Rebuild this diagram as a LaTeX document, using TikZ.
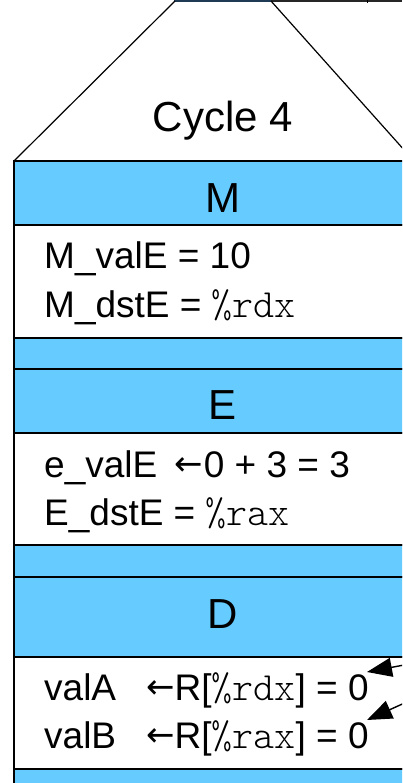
\documentclass[tikz,border=0pt]{standalone}
\usepackage{fontspec}
\setmainfont{Liberation Sans}
\newfontfamily\regfont{Latin Modern Mono Light}
\newfontfamily\arrowfont{DejaVu Sans}
\usetikzlibrary{arrows.meta}
\definecolor{stageblue}{HTML}{66CCFF}
\definecolor{topnavy}{HTML}{1F3A55}
\newcommand{\larr}{\raisebox{2pt}{\arrowfont\fontsize{34}{34}\selectfont ←}}
\newcommand{\reg}[1]{{\regfont\fontsize{40}{40}\selectfont #1}}
\begin{document}
\begin{tikzpicture}[x=1pt,y=-1pt,
  hdr/.style={fill=stageblue, draw=black, line width=1.6pt},
  bodybox/.style={fill=white, draw=black, line width=1.6pt},
  edge/.style={draw=black, line width=1.2pt},
  hdrtext/.style={font=\fontsize{42}{42}\selectfont, anchor=base, inner sep=0pt},
  bodytext/.style={font=\fontsize{37}{37}\selectfont, anchor=base west, inner sep=0pt},
  ptr/.style={draw=black, line width=1.4pt, -{Triangle[length=25pt,width=19pt]}}]
\useasboundingbox (0,0) rectangle (402,783);
\clip (0,0) rectangle (402,783);
% top remnants
\draw[topnavy, line width=2.2pt] (174,1) -- (271,1);
\draw[black!85, line width=2.2pt] (271,1) -- (402,1);
\draw[black, line width=1pt] (367,0) -- (367,3);
% trapezoid
\draw[edge] (14,161) -- (175,1);
\draw[edge] (271,1) -- (414,161);
\node[hdrtext] (cycle) at (223,132) {Cycle 4};
% M stage
\draw[hdr] (14,161) rectangle (440,225);
\draw[bodybox] (14,225) rectangle (440,338);
\draw[hdr] (14,338) rectangle (440,369);
% E stage
\draw[hdr] (14,369) rectangle (440,433);
\draw[bodybox] (14,433) rectangle (440,545);
\draw[hdr] (14,545) rectangle (440,577);
% D stage
\draw[hdr] (14,577) rectangle (440,657);
\draw[bodybox] (14,657) rectangle (440,769);
\draw[hdr] (14,769) rectangle (440,800);
% headers
\node[hdrtext] (mh) at (223,213) {M};
\node[hdrtext] (eh) at (223,419) {E};
\node[hdrtext] (dh) at (223,628) {D};
% bodies
\node[bodytext] (mvale) at (44,269) {M\_valE = 10};
\node[bodytext] (mdste) at (44,317) {M\_dstE = \reg{\%rdx}};
\node[bodytext] (evale) at (44,477) {e\_valE\hspace{17pt}\larr\hspace{1pt}0 + 3 = 3};
\node[bodytext] (edste) at (44,525) {E\_dstE = \reg{\%rax}};
\node[bodytext] (vala) at (44,700) {valA\hspace{30pt}\larr\hspace{0pt}R[\reg{\%rdx}] = 0};
\node[bodytext] (valb) at (44,748) {valB\hspace{30pt}\larr\hspace{0pt}R[\reg{\%rax}] = 0};
% pointers
\coordinate (srcA) at (420,662);
\coordinate (tipA) at (367,672);
\coordinate (srcB) at (420,696);
\coordinate (tipB) at (367,720);
\draw[ptr] (srcA) -- (tipA);
\draw[ptr] (srcB) -- (tipB);
\end{tikzpicture}
\end{document}
